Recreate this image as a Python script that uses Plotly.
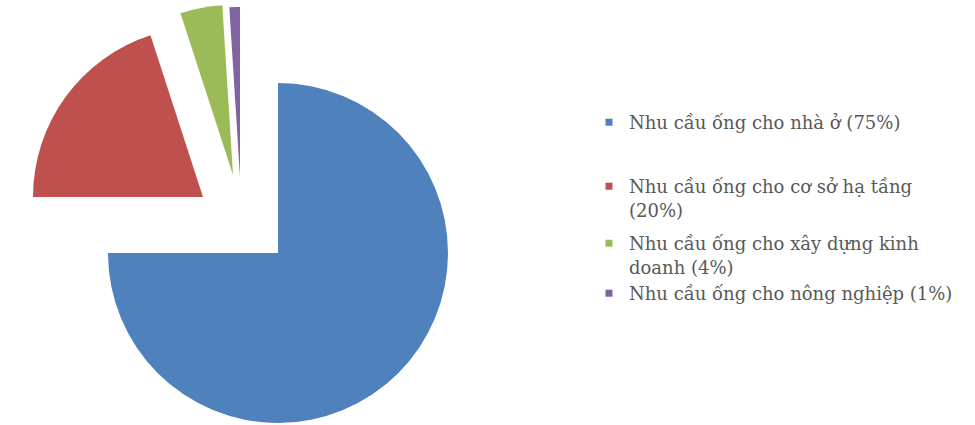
import plotly.graph_objects as go

# ---- data -------------------------------------------------------------
categories = [
    "Nhu cầu ống cho nhà ở",
    "Nhu cầu ống cho cơ sở hạ tầng<br>",
    "Nhu cầu ống cho xây dựng kinh<br>doanh",
    "Nhu cầu ống cho nông nghiệp",
]
shares = [75, 20, 4, 1]  # percent

# ---- style ------------------------------------------------------------
colors = ["#4F81BD", "#C0504D", "#9BBB59", "#8064A2"]
W, H = 975, 425
radius = 170                      # px
pie_center = (278, 253)           # px from top-left, centre of the main pie
# exploded slices are shifted away from the centre (px, dx / dy)
explode = [(0, 0), (-75, -56), (-45, -78), (-38, -76)]
legend_pos = [(589, 118), (589, 182), (589, 239), (589, 289)]  # text first-line centre
legend_font = dict(family="DejaVu Serif", size=18, color="#595959")


def legend_label(cat, v):
    sep = "" if cat.endswith("<br>") else " "
    return f"{cat}{sep}({v}%)"


labels = [legend_label(c, v) for c, v in zip(categories, shares)]

fig = go.Figure()

# one pie trace per slice so every slice can sit at its own exploded centre;
# the other slices of each trace are left transparent
for i, (dx, dy) in enumerate(explode):
    cx, cy = pie_center[0] + dx, pie_center[1] + dy
    slice_colors = [colors[j] if j == i else "rgba(0,0,0,0)" for j in range(len(shares))]
    fig.add_trace(go.Pie(
        values=shares,
        labels=labels,
        sort=False,
        direction="clockwise",
        rotation=0,
        marker=dict(colors=slice_colors, line=dict(width=0)),
        textinfo="none",
        hoverinfo="skip",
        showlegend=False,
        domain=dict(
            x=[(cx - radius) / W, (cx + radius) / W],
            y=[1 - (cy + radius) / H, 1 - (cy - radius) / H],
        ),
    ))

# legend entries
legend_names = ["legend", "legend2", "legend3", "legend4"]
for i, lab in enumerate(labels):
    fig.add_trace(go.Scatter(
        x=[None], y=[None], mode="markers", name=lab,
        marker=dict(symbol="square", size=7, color=colors[i]),
        legend=legend_names[i], hoverinfo="skip",
    ))

layout_legends = {}
for name, (lx, ly) in zip(legend_names, legend_pos):
    layout_legends[name] = dict(
        x=lx / W, y=1 - (ly - 14) / H, xanchor="left", yanchor="top",
        font=legend_font, bgcolor="rgba(0,0,0,0)", valign="top",
        itemwidth=30, borderwidth=0,
    )

fig.update_layout(
    width=W, height=H,
    margin=dict(l=0, r=0, t=0, b=0),
    paper_bgcolor="white", plot_bgcolor="white",
    xaxis=dict(visible=False), yaxis=dict(visible=False),
    **layout_legends,
)

fig.write_html("out.html")
